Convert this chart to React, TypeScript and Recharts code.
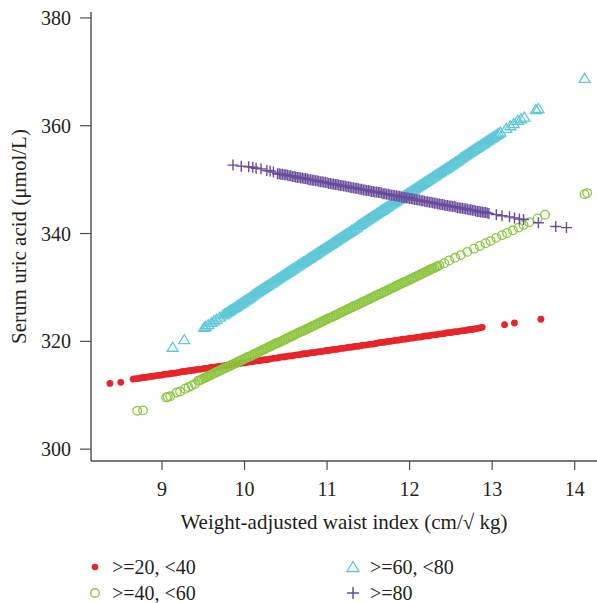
import React from 'react';
import { ScatterChart, Scatter, XAxis, YAxis, Legend } from 'recharts';

const seriesNames = ['>=20, <40', '>=40, <60', '>=60, <80', '>=80'];
const xTicks = [9, 10, 11, 12, 13, 14];
const yTicks = [300, 320, 340, 360, 380];

// [weight-adjusted waist index, serum uric acid]
const redPoints: [number, number][] = [
  [8.37, 312.2], [8.5, 312.4],
  [8.65, 313.0], [8.68, 313.1], [8.71, 313.1], [8.74, 313.2], [8.77, 313.3], [8.8, 313.3], [8.83, 313.4], [8.86, 313.5], [8.89, 313.5], [8.92, 313.6], [8.95, 313.7], [8.98, 313.7],
  [9.01, 313.8], [9.04, 313.9], [9.07, 313.9], [9.1, 314.0], [9.13, 314.1], [9.16, 314.1], [9.19, 314.2], [9.22, 314.3], [9.25, 314.4], [9.28, 314.4], [9.31, 314.5], [9.34, 314.6], [9.37, 314.6], [9.4, 314.7], [9.43, 314.8], [9.46, 314.8], [9.49, 314.9], [9.52, 315.0], [9.55, 315.0], [9.58, 315.1], [9.61, 315.2], [9.64, 315.2], [9.67, 315.3], [9.7, 315.4], [9.73, 315.4], [9.76, 315.5], [9.79, 315.6], [9.82, 315.6], [9.85, 315.7], [9.88, 315.8], [9.91, 315.8], [9.94, 315.9], [9.97, 316.0],
  [10.0, 316.0], [10.03, 316.1], [10.06, 316.2], [10.09, 316.2], [10.12, 316.3], [10.15, 316.4], [10.18, 316.4], [10.21, 316.5], [10.24, 316.6], [10.27, 316.6], [10.3, 316.7], [10.33, 316.8], [10.36, 316.9], [10.39, 316.9], [10.42, 317.0], [10.45, 317.1], [10.48, 317.1], [10.51, 317.2], [10.54, 317.3], [10.57, 317.3], [10.6, 317.4], [10.63, 317.5], [10.66, 317.5], [10.69, 317.6], [10.72, 317.7], [10.75, 317.7], [10.78, 317.8], [10.81, 317.9], [10.84, 317.9], [10.87, 318.0], [10.9, 318.1], [10.93, 318.1], [10.96, 318.2], [10.99, 318.3],
  [11.02, 318.3], [11.05, 318.4], [11.08, 318.5], [11.11, 318.5], [11.14, 318.6], [11.17, 318.7], [11.2, 318.7], [11.23, 318.8], [11.26, 318.9], [11.29, 318.9], [11.32, 319.0], [11.35, 319.1], [11.38, 319.1], [11.41, 319.2], [11.44, 319.3], [11.47, 319.3], [11.5, 319.4], [11.53, 319.5], [11.56, 319.5], [11.59, 319.6], [11.62, 319.7], [11.65, 319.8], [11.68, 319.8], [11.71, 319.9], [11.74, 320.0], [11.77, 320.0], [11.8, 320.1], [11.83, 320.2], [11.86, 320.2], [11.89, 320.3], [11.92, 320.4], [11.95, 320.4], [11.98, 320.5],
  [12.01, 320.6], [12.04, 320.6], [12.07, 320.7], [12.1, 320.8], [12.13, 320.8], [12.16, 320.9], [12.19, 321.0], [12.22, 321.0], [12.25, 321.1], [12.28, 321.2], [12.31, 321.2], [12.34, 321.3], [12.37, 321.4], [12.4, 321.4], [12.43, 321.5], [12.46, 321.6], [12.49, 321.6], [12.52, 321.7], [12.55, 321.8], [12.58, 321.8], [12.61, 321.9], [12.64, 322.0], [12.67, 322.0], [12.7, 322.1], [12.73, 322.2], [12.76, 322.2], [12.79, 322.3], [12.82, 322.4], [12.85, 322.5], [12.88, 322.6],
  [13.15, 323.1], [13.27, 323.4], [13.59, 324.1],
];

const greenPoints: [number, number][] = [
  [8.7, 307.1], [8.77, 307.2], [9.05, 309.6], [9.07, 309.7], [9.1, 309.8], [9.18, 310.5], [9.22, 310.7], [9.28, 311.2], [9.32, 311.5], [9.36, 311.8], [9.4, 312.1],
  [9.44, 312.7], [9.46, 312.8], [9.48, 312.9], [9.5, 313.1], [9.52, 313.2], [9.54, 313.4], [9.56, 313.5], [9.58, 313.7], [9.6, 313.8], [9.62, 314.0], [9.64, 314.1], [9.66, 314.3], [9.68, 314.4], [9.7, 314.6], [9.72, 314.7], [9.74, 314.9], [9.76, 315.0], [9.78, 315.1], [9.8, 315.3], [9.82, 315.4], [9.84, 315.6], [9.86, 315.7], [9.88, 315.9], [9.9, 316.0], [9.92, 316.2], [9.94, 316.3], [9.96, 316.5], [9.98, 316.6],
  [10.0, 316.8], [10.02, 316.9], [10.04, 317.1], [10.06, 317.2], [10.08, 317.3], [10.1, 317.5], [10.12, 317.6], [10.14, 317.8], [10.16, 317.9], [10.18, 318.1], [10.2, 318.2], [10.22, 318.4], [10.24, 318.5], [10.26, 318.7], [10.28, 318.8], [10.3, 319.0], [10.32, 319.1], [10.34, 319.3], [10.36, 319.4], [10.38, 319.6], [10.4, 319.7], [10.42, 319.8], [10.44, 320.0], [10.46, 320.1], [10.48, 320.3], [10.5, 320.4], [10.52, 320.6], [10.54, 320.7], [10.56, 320.9], [10.58, 321.0], [10.6, 321.2], [10.62, 321.3], [10.64, 321.5], [10.66, 321.6], [10.68, 321.8], [10.7, 321.9], [10.72, 322.0], [10.74, 322.2], [10.76, 322.3], [10.78, 322.5], [10.8, 322.6], [10.82, 322.8], [10.84, 322.9], [10.86, 323.1], [10.88, 323.2], [10.9, 323.4], [10.92, 323.5], [10.94, 323.7], [10.96, 323.8], [10.98, 324.0],
  [11.0, 324.1], [11.02, 324.3], [11.04, 324.4], [11.06, 324.5], [11.08, 324.7], [11.1, 324.8], [11.12, 325.0], [11.14, 325.1], [11.16, 325.3], [11.18, 325.4], [11.2, 325.6], [11.22, 325.7], [11.24, 325.9], [11.26, 326.0], [11.28, 326.2], [11.3, 326.3], [11.32, 326.5], [11.34, 326.6], [11.36, 326.7], [11.38, 326.9], [11.4, 327.0], [11.42, 327.2], [11.44, 327.3], [11.46, 327.5], [11.48, 327.6], [11.5, 327.8], [11.52, 327.9], [11.54, 328.1], [11.56, 328.2], [11.58, 328.4], [11.6, 328.5], [11.62, 328.7], [11.64, 328.8], [11.66, 328.9], [11.68, 329.1], [11.7, 329.2], [11.72, 329.4], [11.74, 329.5], [11.76, 329.7], [11.78, 329.8], [11.8, 330.0], [11.82, 330.1], [11.84, 330.3], [11.86, 330.4], [11.88, 330.6], [11.9, 330.7], [11.92, 330.9], [11.94, 331.0], [11.96, 331.1], [11.98, 331.3],
  [12.0, 331.4], [12.02, 331.6], [12.04, 331.7], [12.06, 331.9], [12.08, 332.0], [12.1, 332.2], [12.12, 332.3], [12.14, 332.5], [12.16, 332.6], [12.18, 332.8], [12.2, 332.9], [12.22, 333.1], [12.24, 333.2], [12.26, 333.4], [12.28, 333.5], [12.3, 333.6], [12.32, 333.8], [12.34, 333.9], [12.36, 334.1],
  [12.42, 334.5], [12.48, 335.0], [12.55, 335.5], [12.62, 336.0], [12.7, 336.6], [12.78, 337.2], [12.85, 337.7], [12.92, 338.2], [12.98, 338.6], [13.05, 339.2], [13.12, 339.7], [13.18, 340.1], [13.25, 340.6], [13.32, 341.1], [13.38, 341.6], [13.45, 342.1], [13.55, 342.8], [13.64, 343.5],
  [14.12, 347.3], [14.15, 347.5],
];

const cyanPoints: [number, number][] = [
  [9.13, 318.9], [9.27, 320.3], [9.51, 322.6], [9.53, 322.8], [9.56, 323.1], [9.6, 323.5], [9.63, 323.8], [9.66, 324.1], [9.7, 324.5],
  [9.74, 324.9], [9.76, 325.1], [9.78, 325.3], [9.8, 325.5], [9.82, 325.7], [9.84, 325.9], [9.86, 326.1], [9.88, 326.3], [9.9, 326.5], [9.92, 326.7], [9.94, 326.9], [9.96, 327.1], [9.98, 327.3],
  [10.0, 327.5], [10.02, 327.7], [10.04, 327.9], [10.06, 328.1], [10.08, 328.3], [10.1, 328.6], [10.12, 328.8], [10.14, 329.0], [10.16, 329.2], [10.18, 329.4], [10.2, 329.6], [10.22, 329.8], [10.24, 330.0], [10.26, 330.2], [10.28, 330.4], [10.3, 330.6], [10.32, 330.8], [10.34, 331.0], [10.36, 331.2], [10.38, 331.4], [10.4, 331.6], [10.42, 331.8], [10.44, 332.0], [10.46, 332.2], [10.48, 332.4], [10.5, 332.6], [10.52, 332.8], [10.54, 333.0], [10.56, 333.2], [10.58, 333.4], [10.6, 333.6], [10.62, 333.8], [10.64, 334.0], [10.66, 334.2], [10.68, 334.4], [10.7, 334.6], [10.72, 334.8], [10.74, 335.0], [10.76, 335.2], [10.78, 335.4], [10.8, 335.6], [10.82, 335.8], [10.84, 336.0], [10.86, 336.2], [10.88, 336.4], [10.9, 336.6], [10.92, 336.8], [10.94, 337.0], [10.96, 337.2], [10.98, 337.4],
  [11.0, 337.6], [11.02, 337.8], [11.04, 338.0], [11.06, 338.2], [11.08, 338.4], [11.1, 338.6], [11.12, 338.8], [11.14, 339.0], [11.16, 339.2], [11.18, 339.4], [11.2, 339.6], [11.22, 339.8], [11.24, 340.0], [11.26, 340.2], [11.28, 340.4], [11.3, 340.6], [11.32, 340.8], [11.34, 341.0], [11.36, 341.2], [11.38, 341.5], [11.4, 341.7], [11.42, 341.9], [11.44, 342.1], [11.46, 342.3], [11.48, 342.5], [11.5, 342.7], [11.52, 342.9], [11.54, 343.1], [11.56, 343.3], [11.58, 343.5], [11.6, 343.7], [11.62, 343.9], [11.64, 344.1], [11.66, 344.3], [11.68, 344.5], [11.7, 344.7], [11.72, 344.9], [11.74, 345.1], [11.76, 345.3], [11.78, 345.5], [11.8, 345.7], [11.82, 345.9], [11.84, 346.1], [11.86, 346.3], [11.88, 346.5], [11.9, 346.7], [11.92, 346.9], [11.94, 347.1], [11.96, 347.3], [11.98, 347.5],
  [12.0, 347.7], [12.02, 347.9], [12.04, 348.1], [12.06, 348.3], [12.08, 348.5], [12.1, 348.7], [12.12, 348.9], [12.14, 349.1], [12.16, 349.3], [12.18, 349.5], [12.2, 349.7], [12.22, 349.9], [12.24, 350.1], [12.26, 350.3], [12.28, 350.5], [12.3, 350.7], [12.32, 350.9], [12.34, 351.1], [12.36, 351.3], [12.38, 351.5], [12.4, 351.7], [12.42, 351.9], [12.44, 352.1], [12.46, 352.3], [12.48, 352.5], [12.5, 352.7], [12.52, 352.9], [12.54, 353.1], [12.56, 353.3], [12.58, 353.5], [12.6, 353.7], [12.62, 354.0], [12.64, 354.2], [12.66, 354.4], [12.68, 354.6], [12.7, 354.8], [12.72, 355.0], [12.74, 355.2], [12.76, 355.4], [12.78, 355.6], [12.8, 355.8], [12.82, 356.0], [12.84, 356.2], [12.86, 356.4], [12.88, 356.6], [12.9, 356.8], [12.92, 357.0], [12.94, 357.2], [12.96, 357.4], [12.98, 357.6],
  [13.0, 357.8], [13.02, 358.0], [13.04, 358.2], [13.06, 358.4], [13.08, 358.6], [13.1, 358.8],
  [13.17, 359.5], [13.22, 360.0], [13.26, 360.4], [13.31, 361.0], [13.35, 361.3], [13.39, 361.6], [13.53, 363.0], [13.56, 363.2],
  [14.12, 368.8],
];

const purplePoints: [number, number][] = [
  [9.86, 352.7], [9.96, 352.5], [10.05, 352.4], [10.1, 352.3], [10.14, 352.1], [10.2, 352.0], [10.27, 351.7], [10.31, 351.6], [10.35, 351.4],
  [10.4, 351.1], [10.42, 351.1], [10.44, 351.0], [10.46, 351.0], [10.48, 350.9], [10.5, 350.9], [10.52, 350.8], [10.54, 350.7], [10.56, 350.7], [10.58, 350.6], [10.6, 350.6], [10.62, 350.5], [10.64, 350.4], [10.66, 350.4], [10.68, 350.3], [10.7, 350.3], [10.72, 350.2], [10.74, 350.2], [10.76, 350.1], [10.78, 350.0], [10.8, 350.0], [10.82, 349.9], [10.84, 349.9], [10.86, 349.8], [10.88, 349.8], [10.9, 349.7], [10.92, 349.6], [10.94, 349.6], [10.96, 349.5], [10.98, 349.5],
  [11.0, 349.4], [11.02, 349.3], [11.04, 349.3], [11.06, 349.2], [11.08, 349.2], [11.1, 349.1], [11.12, 349.1], [11.14, 349.0], [11.16, 348.9], [11.18, 348.9], [11.2, 348.8], [11.22, 348.8], [11.24, 348.7], [11.26, 348.7], [11.28, 348.6], [11.3, 348.5], [11.32, 348.5], [11.34, 348.4], [11.36, 348.4], [11.38, 348.3], [11.4, 348.2], [11.42, 348.2], [11.44, 348.1], [11.46, 348.1], [11.48, 348.0], [11.5, 348.0], [11.52, 347.9], [11.54, 347.8], [11.56, 347.8], [11.58, 347.7], [11.6, 347.7], [11.62, 347.6], [11.64, 347.6], [11.66, 347.5], [11.68, 347.4], [11.7, 347.4], [11.72, 347.3], [11.74, 347.3], [11.76, 347.2], [11.78, 347.1], [11.8, 347.1], [11.82, 347.0], [11.84, 347.0], [11.86, 346.9], [11.88, 346.9], [11.9, 346.8], [11.92, 346.7], [11.94, 346.7], [11.96, 346.6], [11.98, 346.6],
  [12.0, 346.5], [12.02, 346.5], [12.04, 346.4], [12.06, 346.3], [12.08, 346.3], [12.1, 346.2], [12.12, 346.2], [12.14, 346.1], [12.16, 346.1], [12.18, 346.0], [12.2, 345.9], [12.22, 345.9], [12.24, 345.8], [12.26, 345.8], [12.28, 345.7], [12.3, 345.6], [12.32, 345.6], [12.34, 345.5], [12.36, 345.5], [12.38, 345.4], [12.4, 345.4], [12.42, 345.3], [12.44, 345.2], [12.46, 345.2], [12.48, 345.1], [12.5, 345.1], [12.52, 345.0], [12.54, 345.0], [12.56, 344.9], [12.58, 344.8], [12.6, 344.8], [12.62, 344.7], [12.64, 344.7], [12.66, 344.6], [12.68, 344.6], [12.7, 344.5], [12.72, 344.4], [12.74, 344.4], [12.76, 344.3], [12.78, 344.3], [12.8, 344.2], [12.82, 344.1], [12.84, 344.1], [12.86, 344.0], [12.88, 344.0], [12.9, 343.9], [12.92, 343.9], [12.94, 343.8], [12.96, 343.7],
  [13.05, 343.5], [13.12, 343.3], [13.21, 343.1], [13.27, 342.9], [13.33, 342.7], [13.38, 342.6], [13.56, 342.0], [13.77, 341.3], [13.9, 341.1],
];

const COLORS = ['#E8242B', '#8DC63F', '#5EC8D8', '#6A4C9C'];
const FONT = '"Liberation Serif", "DejaVu Serif", serif';
const TEXT = '#231F20';
const AXIS = '#4D4D4D';

const toData = (pts: [number, number][]) => pts.map(([x, y]) => ({ x, y }));
const redData = toData(redPoints);
const greenData = toData(greenPoints);
const cyanData = toData(cyanPoints);
const purpleData = toData(purplePoints);

const Dot = (p: any) => <circle cx={p.cx} cy={p.cy} r={3.4} fill={COLORS[0]} />;
const Ring = (p: any) => (
  <circle cx={p.cx} cy={p.cy} r={4.3} fill="none" stroke={COLORS[1]} strokeWidth={1.3} />
);
const Tri = (p: any) => (
  <path
    d={`M${p.cx},${p.cy - 5} L${p.cx + 5.5},${p.cy + 4} L${p.cx - 5.5},${p.cy + 4} Z`}
    fill="none"
    stroke={COLORS[2]}
    strokeWidth={1.3}
  />
);
const Plus = (p: any) => (
  <path
    d={`M${p.cx - 5.5},${p.cy} H${p.cx + 5.5} M${p.cx},${p.cy - 5.5} V${p.cy + 5.5}`}
    stroke={COLORS[3]}
    strokeWidth={1.4}
  />
);

const LegendBox = () => {
  const icon = (i: number, x: number, y: number) => {
    if (i === 0) return <circle cx={x} cy={y} r={3.3} fill={COLORS[0]} />;
    if (i === 1) return <circle cx={x} cy={y} r={4.3} fill="none" stroke={COLORS[1]} strokeWidth={1.4} />;
    if (i === 2)
      return (
        <path d={`M${x},${y - 5.5} L${x + 6},${y + 4.5} L${x - 6},${y + 4.5} Z`} fill="none" stroke={COLORS[2]} strokeWidth={1.4} />
      );
    return (
      <path d={`M${x - 6},${y} H${x + 6} M${x},${y - 6} V${y + 6}`} stroke={COLORS[3]} strokeWidth={1.5} />
    );
  };
  const pos = [
    [95, 12],
    [95, 38],
    [353, 12],
    [353, 38],
  ];
  return (
    <svg width={597} height={56} style={{ display: 'block', overflow: 'visible' }}>
      {seriesNames.map((n, i) => (
        <g key={n}>
          {icon(i, pos[i][0], pos[i][1])}
          <text x={pos[i][0] + 17} y={pos[i][1] + 6.5} fontFamily={FONT} fontSize={20} fill={TEXT}>
            {n}
          </text>
        </g>
      ))}
    </svg>
  );
};

export default function App() {
  return (
    <div style={{ position: 'absolute', left: 0, top: 0, background: '#fff' }}>
      <ScatterChart width={597} height={603} margin={{ top: 12, right: 0, bottom: 72, left: 0 }}>
        <XAxis
          xAxisId="top"
          orientation="top"
          type="number"
          dataKey="x"
          domain={[8.14, 14.27]}
          allowDataOverflow
          height={0}
          tick={false}
          tickLine={false}
          axisLine={{ stroke: AXIS, strokeWidth: 1.4 }}
        />
        <XAxis
          xAxisId="main"
          type="number"
          dataKey="x"
          domain={[8.14, 14.27]}
          ticks={xTicks}
          allowDataOverflow
          height={70}
          tickSize={9}
          tickMargin={12}
          axisLine={{ stroke: AXIS, strokeWidth: 1.4 }}
          tickLine={{ stroke: AXIS, strokeWidth: 1.2 }}
          tick={{ fontFamily: FONT, fontSize: 20, fill: TEXT }}
          label={{
            value: 'Weight-adjusted waist index (cm/\u221A kg)',
            position: 'insideBottom',
            offset: 2,
            style: { fontFamily: FONT, fontSize: 21, fill: TEXT, textAnchor: 'middle' },
          }}
        />
        <YAxis
          type="number"
          dataKey="y"
          domain={[297.8, 381.1]}
          ticks={yTicks}
          allowDataOverflow
          width={91}
          tickSize={11}
          tickMargin={9}
          axisLine={{ stroke: AXIS, strokeWidth: 1.4 }}
          tickLine={{ stroke: AXIS, strokeWidth: 1.2 }}
          tick={{ fontFamily: FONT, fontSize: 20, fill: TEXT }}
          label={{
            value: 'Serum uric acid (\u03BCmol/L)',
            angle: -90,
            position: 'insideLeft',
            offset: 19,
            style: { fontFamily: FONT, fontSize: 21, fill: TEXT, textAnchor: 'middle' },
          }}
        />
        <Legend
          layout="horizontal"
          verticalAlign="middle"
          align="center"
          wrapperStyle={{ position: 'absolute', left: 0, top: 555, width: 597 }}
          content={() => <LegendBox />}
        />
        <Scatter name={seriesNames[0]} data={redData} xAxisId="main" shape={Dot} isAnimationActive={false} />
        <Scatter name={seriesNames[1]} data={greenData} xAxisId="main" shape={Ring} isAnimationActive={false} />
        <Scatter name={seriesNames[2]} data={cyanData} xAxisId="main" shape={Tri} isAnimationActive={false} />
        <Scatter name={seriesNames[3]} data={purpleData} xAxisId="main" shape={Plus} isAnimationActive={false} />
      </ScatterChart>
    </div>
  );
}
